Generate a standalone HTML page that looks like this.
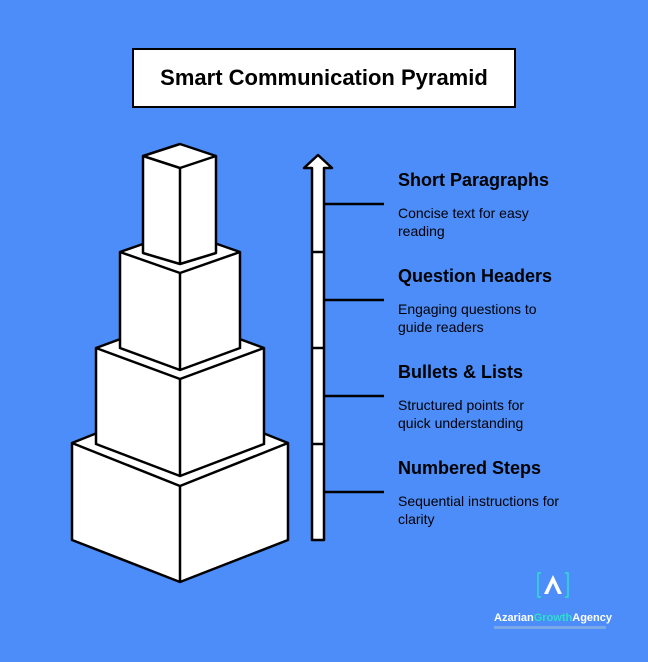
<!DOCTYPE html>
<html><head><meta charset="utf-8"><style>
html,body{margin:0;padding:0}
body{width:648px;height:662px;background:#4c8dfa;position:relative;overflow:hidden;font-family:"Liberation Sans",sans-serif}
.t{position:absolute;left:132px;top:48px;width:380px;height:56px;border:2px solid #000;background:#fff;font-weight:bold;font-size:22px;text-align:center;line-height:56px;color:#000}
.h{position:absolute;left:398px;font-weight:bold;font-size:18px;color:#000}
.s{position:absolute;left:398px;font-size:14px;line-height:18px;color:#000}
</style></head><body>
<div class="t">Smart Communication Pyramid</div>
<svg width="648" height="662" style="position:absolute;left:0;top:0" stroke="#000" stroke-width="2.5" stroke-linejoin="round" fill="#fff">
<g>
<polygon points="180,400 288,443 288,540 180,582 72,540 72,443"/>
<polyline points="72,443 180,486 288,443" fill="none"/><line x1="180" y1="486" x2="180" y2="582"/>
</g>
<g>
<polygon points="180,317 264,348 264,444 180,476 96,444 96,348"/>
<polyline points="96,348 180,379 264,348" fill="none"/><line x1="180" y1="379" x2="180" y2="476"/>
</g>
<g>
<polygon points="180,231 240,252 240,348 180,370 120,348 120,252"/>
<polyline points="120,252 180,273 240,252" fill="none"/><line x1="180" y1="273" x2="180" y2="370"/>
</g>
<g>
<polygon points="180,144 216,156 216,253 180,264 143,253 143,156"/>
<polyline points="143,156 180,168 216,156" fill="none"/><line x1="180" y1="168" x2="180" y2="264"/>
</g>
<polygon points="318,155 332,168 324,168 324,540 312,540 312,168 304,168"/>
<line x1="312" y1="252" x2="324" y2="252"/><line x1="312" y1="348" x2="324" y2="348"/><line x1="312" y1="444" x2="324" y2="444"/>
<line x1="324" y1="204" x2="384" y2="204"/><line x1="324" y1="300" x2="384" y2="300"/><line x1="324" y1="396" x2="384" y2="396"/><line x1="324" y1="492" x2="384" y2="492"/>
<g stroke="#2de0c8" stroke-width="1.5" fill="none"><polyline points="541,573 538,573 538,597 541,597"/><polyline points="565,573 568,573 568,597 565,597"/></g>
<polygon points="553,575 562,594 558,594 553,583 548,594 544,594" stroke="none" fill="#fff"/>
<text x="494" y="621" font-size="11" font-weight="bold" stroke="none" fill="#fff" font-family="Liberation Sans, sans-serif">Azarian<tspan fill="#2de0c8">Growth</tspan>Agency</text>
<rect x="494" y="626" width="112" height="3" fill="#7aa7e8" stroke="none"/>
</svg>
<div class="h" style="top:170px">Short Paragraphs</div>
<div class="s" style="top:204px">Concise text for easy<br>reading</div>
<div class="h" style="top:266px">Question Headers</div>
<div class="s" style="top:300px">Engaging questions to<br>guide readers</div>
<div class="h" style="top:362px">Bullets &amp; Lists</div>
<div class="s" style="top:396px">Structured points for<br>quick understanding</div>
<div class="h" style="top:458px">Numbered Steps</div>
<div class="s" style="top:492px">Sequential instructions for<br>clarity</div>
</body></html>
